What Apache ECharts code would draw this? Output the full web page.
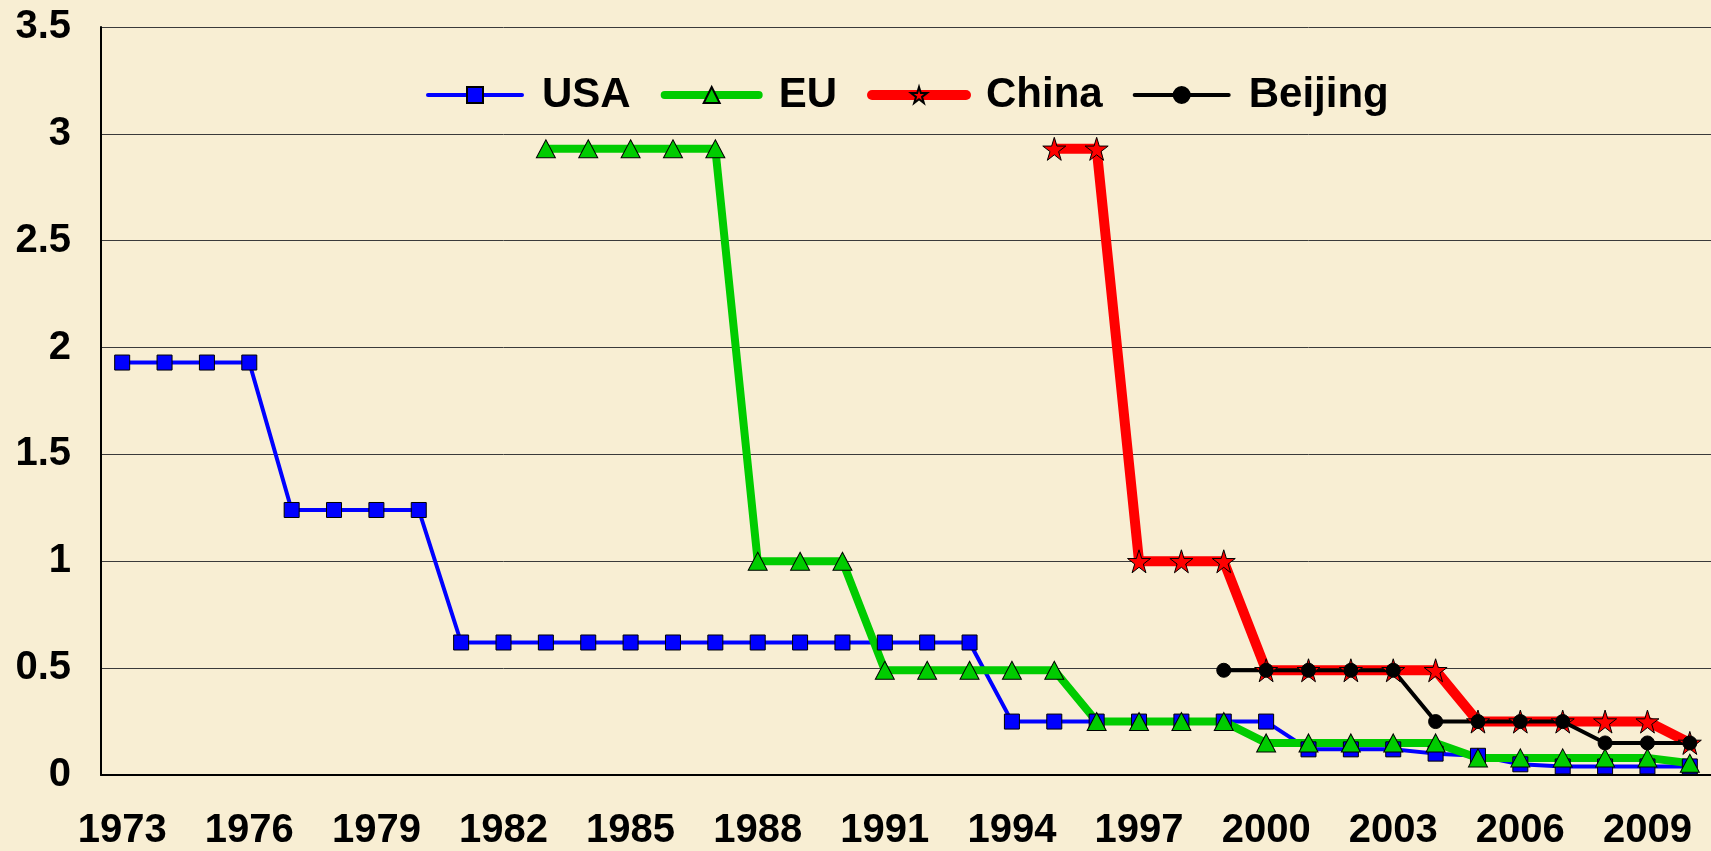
<!DOCTYPE html>
<html>
<head>
<meta charset="utf-8">
<title>NOx limits</title>
<script src="https://cdn.jsdelivr.net/npm/echarts@6/dist/echarts.min.js"></script>
<style>
  html, body { margin: 0; padding: 0; background: #f8eed3; }
  #chart { width: 1711px; height: 851px; }
</style>
</head>
<body>
<div id="chart"></div>
<script>
// years on the x axis
var years = [];
for (var y = 1973; y <= 2010; y++) years.push(String(y));

// values, one per year (null = no standard yet)
var usa = [1.93, 1.93, 1.93, 1.93, 1.24, 1.24, 1.24, 1.24,
  0.62, 0.62, 0.62, 0.62, 0.62, 0.62, 0.62, 0.62, 0.62, 0.62, 0.62, 0.62, 0.62,
  0.25, 0.25, 0.25, 0.25, 0.25, 0.25, 0.25,
  0.12, 0.12, 0.12, 0.1, 0.09, 0.05, 0.04, 0.04, 0.04, 0.04];
var eu = [null, null, null, null, null, null, null, null, null, null,
  2.93, 2.93, 2.93, 2.93, 2.93, 1.0, 1.0, 1.0,
  0.49, 0.49, 0.49, 0.49, 0.49, 0.25, 0.25, 0.25, 0.25,
  0.15, 0.15, 0.15, 0.15, 0.15, 0.08, 0.08, 0.08, 0.08, 0.08, 0.055];
var china = [null, null, null, null, null, null, null, null, null, null,
  null, null, null, null, null, null, null, null, null, null, null, null,
  2.93, 2.93, 1.0, 1.0, 1.0, 0.49, 0.49, 0.49, 0.49, 0.49,
  0.25, 0.25, 0.25, 0.25, 0.25, 0.15];
var beijing = [null, null, null, null, null, null, null, null, null, null,
  null, null, null, null, null, null, null, null, null, null, null, null,
  null, null, null, null, 0.49, 0.49, 0.49, 0.49, 0.49,
  0.25, 0.25, 0.25, 0.25, 0.15, 0.15, 0.15];

var font = "'Liberation Sans', Arial, sans-serif";
var star = 'path://M50,0 L61,35 L98,35 L68,57 L79,92 L50,70 L21,92 L32,57 L2,35 L39,35 Z';

var chart = echarts.init(document.getElementById('chart'));
chart.setOption({
  backgroundColor: '#f8eed3',
  animation: false,
  grid: { left: 101, right: 0, top: 27, bottom: 74 },
  legend: {
    left: 421,
    top: 69,
    itemWidth: 94,
    itemHeight: 20,
    itemGap: 30,
    textStyle: {
      fontFamily: font, fontSize: 42, fontWeight: 'bold', color: '#000',
      padding: [0, 0, 0, 15]
    },
    // legend lines drawn thick with round ends like the original
    data: [
      { name: 'USA', lineStyle: { width: 4, cap: 'round' } },
      { name: 'EU', lineStyle: { width: 8, cap: 'round' } },
      { name: 'China', lineStyle: { width: 10, cap: 'round' } },
      { name: 'Beijing', lineStyle: { width: 4, cap: 'round' } }
    ]
  },
  xAxis: {
    type: 'category',
    data: years,
    boundaryGap: true,
    axisTick: { show: false },
    axisLine: { lineStyle: { color: '#000', width: 2 } },
    axisLabel: {
      interval: 2, margin: 36,
      fontFamily: font, fontSize: 40, fontWeight: 'bold', color: '#000'
    }
  },
  yAxis: {
    type: 'value',
    min: 0, max: 3.5, interval: 0.5,
    axisLine: { show: true, lineStyle: { color: '#000', width: 2 } },
    axisTick: { show: false },
    splitLine: { lineStyle: { color: '#3a3a3a', width: 1 } },
    axisLabel: {
      margin: 30,
      fontFamily: font, fontSize: 40, fontWeight: 'bold', color: '#000'
    }
  },
  series: [
    {
      name: 'USA', type: 'line', data: usa,
      symbol: 'rect', symbolSize: 15,
      lineStyle: { color: '#0000ff', width: 4 },
      itemStyle: { color: '#0000ff', borderColor: '#000', borderWidth: 1 }
    },
    {
      name: 'EU', type: 'line', data: eu,
      symbol: 'triangle', symbolSize: [19, 18],
      lineStyle: { color: '#00cc00', width: 8 },
      itemStyle: { color: '#00cc00', borderColor: '#000', borderWidth: 1 }
    },
    {
      name: 'China', type: 'line', data: china,
      symbol: star, symbolSize: 23,
      lineStyle: { color: '#ff0000', width: 10 },
      itemStyle: { color: '#ff0000', borderColor: '#000', borderWidth: 1 }
    },
    {
      name: 'Beijing', type: 'line', data: beijing,
      symbol: 'circle', symbolSize: 14,
      lineStyle: { color: '#000', width: 4 },
      itemStyle: { color: '#000', borderColor: '#000', borderWidth: 1 }
    }
  ]
});
</script>
</body>
</html>
